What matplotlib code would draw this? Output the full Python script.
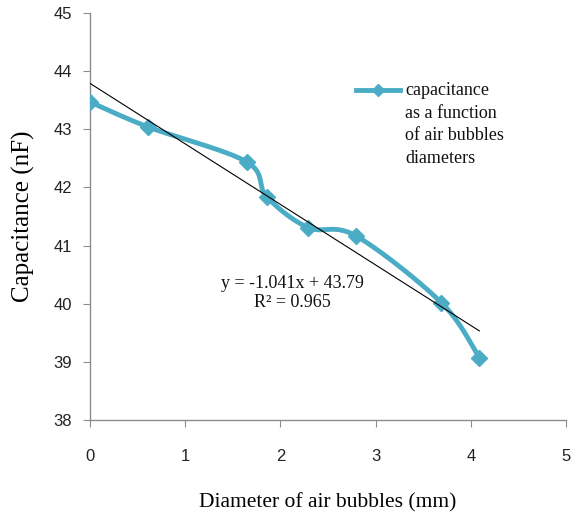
import numpy as np
import matplotlib
matplotlib.use("Agg")
import matplotlib.pyplot as plt
from matplotlib.lines import Line2D

# ---- data ----
diameter_mm = [0.0, 0.61, 1.645, 1.856, 2.29, 2.79, 3.69, 4.09]
capacitance_nF = [43.47, 43.04, 42.44, 41.84, 41.31, 41.17, 40.02, 39.07]
trend_slope = -1.041
trend_intercept = 43.79
r_squared = 0.965
x_ticks = [0, 1, 2, 3, 4, 5]
y_ticks = [38, 39, 40, 41, 42, 43, 44, 45]
series_label = "capacitance\nas a function\nof air bubbles\ndiameters"

LINE_COLOR = "#4BACC6"
SERIF = ["Liberation Serif", "DejaVu Serif"]
SANS = ["Liberation Sans", "DejaVu Sans"]

fig = plt.figure(figsize=(5.72, 5.16), dpi=100)
W, H = 572, 516
ax = fig.add_axes([90 / W, 1 - 420 / H, (566 - 90) / W, (420 - 13) / H])
ax.set_xlim(x_ticks[0], x_ticks[-1])
ax.set_ylim(y_ticks[0], y_ticks[-1])

# Excel-style smoothed line (Catmull-Rom Bezier in display space)
fig.canvas.draw()
pts = ax.transData.transform(np.column_stack([diameter_mm, capacitance_nF]))
n = len(pts)
curve = []
for i in range(n - 1):
    p0 = pts[max(i - 1, 0)]
    p1 = pts[i]
    p2 = pts[i + 1]
    p3 = pts[min(i + 2, n - 1)]
    c1 = p1 + (p2 - p0) / 6.0
    c2 = p2 - (p3 - p1) / 6.0
    t = np.linspace(0, 1, 40)[:, None]
    seg = ((1 - t) ** 3) * p1 + 3 * ((1 - t) ** 2) * t * c1 + 3 * (1 - t) * t ** 2 * c2 + t ** 3 * p2
    curve.append(seg if i == 0 else seg[1:])
curve = np.vstack(curve)
curve_data = ax.transData.inverted().transform(curve)

ax.plot(curve_data[:, 0], curve_data[:, 1], color=LINE_COLOR, lw=3.5,
        solid_capstyle="round", zorder=3)
ax.plot(diameter_mm, capacitance_nF, linestyle="none", marker="D", ms=8,
        color=LINE_COLOR, zorder=4)

# linear trend line
tx = np.array([min(diameter_mm), max(diameter_mm)])
ax.plot(tx, trend_slope * tx + trend_intercept, color="black", lw=0.8, zorder=5)

# equation
ax.text(2.13, 40.19, "y = -1.041x + 43.79\nR² = 0.965", ha="center", va="center",
        fontsize=13, family=SERIF, linespacing=1.15, color="#111111")

# axes styling
for s in ["top", "right"]:
    ax.spines[s].set_visible(False)
for s in ["left", "bottom"]:
    ax.spines[s].set_color("#8c8c8c")
    ax.spines[s].set_linewidth(1.0)
ax.set_xticks(x_ticks)
ax.set_yticks(y_ticks)
ax.tick_params(axis="both", direction="out", length=5, color="#8c8c8c",
               labelsize=12, labelcolor="#222222")
ax.tick_params(axis="x", pad=16)
ax.tick_params(axis="y", pad=8)
for lab in ax.get_xticklabels() + ax.get_yticklabels():
    lab.set_family(SANS)

ax.set_xlabel("Diameter of air bubbles (mm)", fontsize=15.5, family=SERIF, labelpad=21)
ax.set_ylabel("Capacitance (nF)", fontsize=18, family=SERIF, labelpad=13)

# legend (manual)
ly = 1 - 90 / H
fig.add_artist(Line2D([356 / W, 400 / W], [ly, ly], transform=fig.transFigure,
                      color=LINE_COLOR, lw=3.5))
fig.add_artist(Line2D([378 / W], [ly], transform=fig.transFigure, color=LINE_COLOR,
                      marker="D", ms=6))
fig.text(405 / W, 1 - 82 / H, series_label, ha="left", va="top", fontsize=13,
         family=SERIF, linespacing=1.44, color="#111111")

fig.savefig("out.png", dpi=100)
